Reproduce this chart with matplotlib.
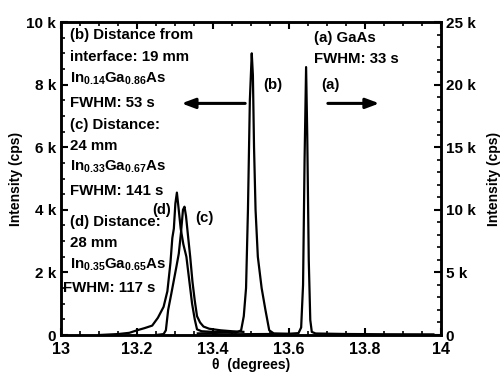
import numpy as np
import matplotlib
matplotlib.use("Agg")
import matplotlib.pyplot as plt
from matplotlib.ticker import MultipleLocator, FuncFormatter

plt.rcParams['font.family'] = ['Liberation Sans', 'DejaVu Sans']
plt.rcParams['font.weight'] = 'bold'
plt.rcParams['mathtext.fontset'] = 'custom'
plt.rcParams['mathtext.rm'] = 'Liberation Sans:bold'
plt.rcParams['mathtext.it'] = 'Liberation Sans:bold'
plt.rcParams['mathtext.bf'] = 'Liberation Sans:bold'
plt.rcParams['mathtext.default'] = 'rm'

# (a) GaAs substrate, right axis (k cps)
a_theta = [13.40, 13.55, 13.60, 13.625, 13.632, 13.637, 13.641, 13.645, 13.648,
           13.652, 13.656, 13.660, 13.67, 13.75, 13.85, 13.98]
a_int = [0.05, 0.08, 0.10, 0.15, 0.6, 4.0, 14.0, 21.4, 16.0, 6.0, 1.2, 0.25,
         0.12, 0.08, 0.06, 0.05]

# (b) 19 mm, left axis (k cps)
b_theta = [13.36, 13.40, 13.44, 13.46, 13.474, 13.481, 13.487, 13.492, 13.497,
           13.502, 13.505, 13.508, 13.512, 13.518, 13.528, 13.538, 13.548,
           13.56, 13.60]
b_int = [0.05, 0.06, 0.10, 0.07, 0.15, 0.6, 1.5, 4.0, 7.5, 9.0, 8.3, 6.0, 4.0,
         2.5, 1.5, 0.8, 0.15, 0.05, 0.03]

# (c) 24 mm, left axis
c_theta = [13.25, 13.27, 13.276, 13.282, 13.290, 13.297, 13.304, 13.310, 13.316,
           13.321, 13.325, 13.329, 13.334, 13.340, 13.346, 13.352, 13.358,
           13.366, 13.375, 13.39, 13.42, 13.45, 13.48]
c_int = [0.0, 0.03, 0.15, 0.80, 1.30, 1.75, 2.20, 2.60, 3.30, 4.00, 4.10, 3.80,
         3.20, 2.50, 1.70, 1.10, 0.60, 0.40, 0.27, 0.20, 0.15, 0.12, 0.10]

# (d) 28 mm, left axis
d_theta = [13.10, 13.15, 13.18, 13.20, 13.22, 13.24, 13.255, 13.27, 13.28,
           13.288, 13.293, 13.297, 13.301, 13.305, 13.309, 13.315, 13.322,
           13.330, 13.338, 13.345, 13.352, 13.358, 13.37, 13.40, 13.45]
d_int = [0.0, 0.03, 0.07, 0.15, 0.22, 0.30, 0.55, 0.90, 1.40, 2.30, 3.10, 3.40,
         4.20, 4.55, 4.10, 3.40, 2.90, 2.50, 1.70, 1.00, 0.50, 0.18, 0.12,
         0.10, 0.08]

left_lines = ["(b) Distance from", "interface: 19 mm",
              r"In$_{0.14}$Ga$_{0.86}$As", "FWHM: 53 s",
              "(c) Distance:", "24 mm", r"In$_{0.33}$Ga$_{0.67}$As",
              "FWHM: 141 s", "(d) Distance:", "28 mm",
              r"In$_{0.35}$Ga$_{0.65}$As", "FWHM: 117 s"]
left_line_y = [35, 57, 79, 103, 125, 146, 167, 191, 222, 243, 265, 288]

fig = plt.figure(figsize=(5.04, 3.77), dpi=100)
ax = fig.add_axes([0.121, 0.1114, 0.754, 0.8302])
ax2 = ax.twinx()

lw = 1.6
ax.plot(b_theta, b_int, color='black', lw=lw)
ax.plot(c_theta, c_int, color='black', lw=lw)
ax.plot(d_theta, d_int, color='black', lw=lw)
ax2.plot(a_theta, a_int, color='black', lw=lw)

ax.set_xlim(13, 14)
ax.set_ylim(0, 10)
ax2.set_ylim(0, 25)

ax.xaxis.set_major_locator(MultipleLocator(0.2))
ax.xaxis.set_minor_locator(MultipleLocator(0.05))
ax.xaxis.set_major_formatter(FuncFormatter(lambda v, p: f"{v:g}"))
ax.yaxis.set_major_locator(MultipleLocator(2))
ax.yaxis.set_minor_locator(MultipleLocator(0.5))
ax.yaxis.set_major_formatter(FuncFormatter(lambda v, p: "0" if v == 0 else f"{v:g} k"))
ax2.yaxis.set_major_locator(MultipleLocator(5))
ax2.yaxis.set_minor_locator(MultipleLocator(1))
ax2.yaxis.set_major_formatter(FuncFormatter(lambda v, p: "0" if v == 0 else f"{v:g} k"))

for a in (ax, ax2):
    for s in a.spines.values():
        s.set_linewidth(1.8)
    a.tick_params(which='major', direction='in', length=5, width=1.5, labelsize=11)
    a.tick_params(which='minor', direction='in', length=3, width=1.2)
ax.tick_params(axis='x', which='both', top=True)
ax.tick_params(axis='x', pad=5, labelsize=11.5)

ax.set_xlabel(r"θ  (degrees)", fontsize=10, fontweight='bold', labelpad=1)
ax.set_ylabel("Intensity (cps)", fontsize=10, fontweight='bold', labelpad=2)
ax2.set_ylabel("Intensity (cps)", fontsize=10, fontweight='bold', rotation=90,
               labelpad=8)

# annotation text on the left
H = 377
for txt, ypx in zip(left_lines, left_line_y):
    xpx = 63 if txt.startswith("FWHM: 117") else 70
    fig.text(xpx / 504, 1 - ypx / H, txt, fontsize=10.8, fontweight='bold',
             va='center', ha='left')
fig.text(314 / 504, 1 - 38 / H, "(a) GaAs", fontsize=10.8, fontweight='bold', va='center')
fig.text(314 / 504, 1 - 59 / H, "FWHM: 33 s", fontsize=10.8, fontweight='bold', va='center')

ax.text(13.558, 8.0, "(b)", fontsize=10.8, fontweight='bold', ha='center', va='center')
ax.text(13.708, 8.0, "(a)", fontsize=10.8, fontweight='bold', ha='center', va='center')
ax.text(13.264, 4.0, "(d)", fontsize=10.5, fontweight='bold', ha='center', va='center')
ax.text(13.378, 3.75, "(c)", fontsize=10.8, fontweight='bold', ha='center', va='center')

arrow_kw = dict(arrowstyle='-|>,head_length=0.8,head_width=0.3', color='black', lw=2.2)
ax.annotate("", xy=(13.31, 7.4), xytext=(13.492, 7.4), arrowprops=arrow_kw)
ax.annotate("", xy=(13.845, 7.4), xytext=(13.695, 7.4), arrowprops=arrow_kw)

fig.savefig("out.png", dpi=100)
